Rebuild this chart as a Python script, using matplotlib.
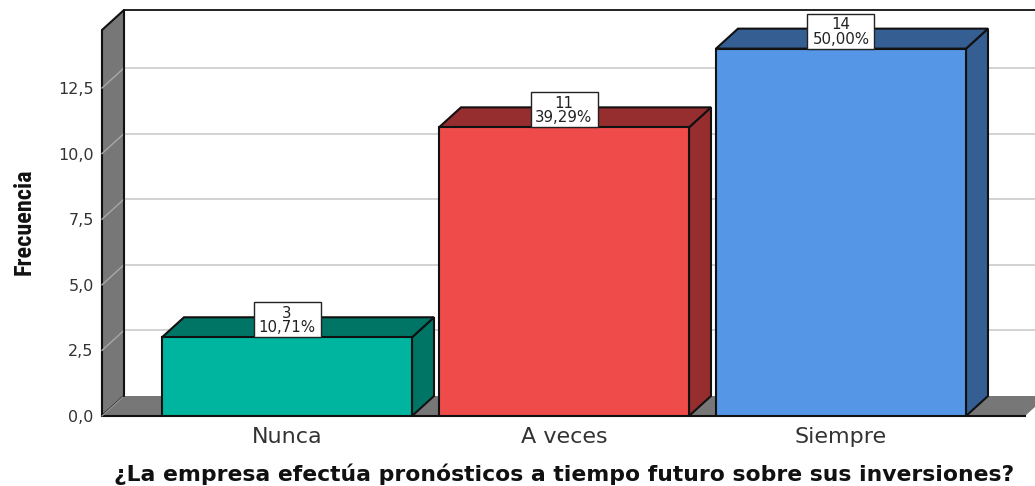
import matplotlib
matplotlib.use("Agg")
import matplotlib.pyplot as plt
from matplotlib import font_manager as fm
from matplotlib.patches import Polygon, Rectangle

categories = ["Nunca", "A veces", "Siempre"]
frequencies = [3, 11, 14]
percent_labels = ["10,71%", "39,29%", "50,00%"]
yticks = [0.0, 2.5, 5.0, 7.5, 10.0, 12.5]
ytick_labels = ["0,0", "2,5", "5,0", "7,5", "10,0", "12,5"]
bar_colors = ["#00B5A0", "#EF4B4B", "#5596E6"]
side_colors = ["#007565", "#962D2F", "#355E92"]

W, H = 1035, 486
fig = plt.figure(figsize=(W / 100, H / 100), dpi=100, facecolor="white")
L, R, B, T = 102, 1025, 416, 30
ax = fig.add_axes([L / W, 1 - B / H, (R - L) / W, (B - T) / H])
ppu = 26.24
step = 277.0
ymax = (B - T) / ppu
xmin, xmax = (L - 287) / step, (R - 287) / step
ax.set_xlim(xmin, xmax)
ax.set_ylim(0, ymax)
ax.patch.set_visible(False)
for s in ax.spines.values():
    s.set_visible(False)

dx = 22 / step
dy = 20 / ppu
wall = "#777777"
edge = "#111111"
bw = 250 / step


def poly(pts, fc, ec=edge, lw=1.5, z=2):
    ax.add_patch(Polygon(pts, closed=True, fc=fc, ec=ec, lw=lw, zorder=z,
                         clip_on=False, joinstyle="miter"))


# left wall and floor
poly([(xmin, 0), (xmin + dx, dy), (xmin + dx, ymax + dy), (xmin, ymax)], wall)
poly([(xmin, 0), (xmin + dx, dy), (xmax + dx, dy), (xmax, 0)], wall, ec="none", lw=0, z=2)
ax.plot([xmin, xmax], [0, 0], color=edge, lw=1.5, zorder=3, clip_on=False)
ax.plot([xmin, xmin + dx], [0, dy], color="#999999", lw=0.8, zorder=3, clip_on=False)

# back wall lines
for v in yticks[1:]:
    ax.plot([xmin + dx, xmax + dx], [v + dy, v + dy], color="#D2D2D2", lw=1.4,
            zorder=1, clip_on=False)
    ax.plot([xmin, xmin + dx], [v, v + dy], color="#A8A8A8", lw=1.0, zorder=3, clip_on=False)
ax.plot([xmin + dx, xmax + dx], [ymax + dy, ymax + dy], color=edge, lw=1.3, zorder=3, clip_on=False)
ax.plot([xmin + dx, xmin + dx], [dy, ymax + dy], color=edge, lw=1.3, zorder=3, clip_on=False)

# bars
for i, (v, c, sc) in enumerate(zip(frequencies, bar_colors, side_colors)):
    x0, x1 = i - bw / 2, i + bw / 2
    poly([(x1, 0), (x1 + dx, dy), (x1 + dx, v + dy), (x1, v)], sc, z=4)
    poly([(x0, v), (x0 + dx, v + dy), (x1 + dx, v + dy), (x1, v)], sc, z=4)
    ax.bar(i, v, width=bw, color=c, edgecolor=edge, linewidth=1.5, zorder=5)
    bh = 35 / ppu
    bwid = 67 / step
    ax.add_patch(Rectangle((i - bwid / 2, v), bwid, bh, fc="white", ec="#222222", lw=1.0,
                           zorder=6, clip_on=False))
    ax.text(i, v + bh * 0.48, f"{v}\n{percent_labels[i]}", ha="center", va="center",
            multialignment="center", linespacing=0.95, fontsize=10.8, color="#222222",
            zorder=7, family="DejaVu Sans")

ax.set_xticks(range(len(categories)))
ax.set_xticklabels(categories, fontsize=16, color="#333333", family="DejaVu Sans")
ax.set_yticks(yticks)
ax.set_yticklabels(ytick_labels, fontsize=11.5, color="#333333", family="DejaVu Sans")
ax.tick_params(axis="x", length=0, pad=8)
ax.tick_params(axis="y", length=0, pad=6)

fig.text(564 / W, 1 - 474 / H,
         "¿La empresa efectúa pronósticos a tiempo futuro sobre sus inversiones?",
         ha="center", va="center", fontsize=15.78, fontweight="bold", color="#111111",
         family="DejaVu Sans")

names = {f.name for f in fm.fontManager.ttflist}
narrow = next((n for n in ["Liberation Sans Narrow", "Roboto Condensed", "Open Sans Condensed"]
               if n in names), "Liberation Sans")
fig.text(24 / W, 1 - 222 / H, "Frecuencia", rotation=90, ha="center", va="center",
         fontsize=17.5 if narrow != "Liberation Sans" else 14, fontweight="bold",
         color="#111111", family=narrow)

fig.savefig("out.png", dpi=100)
